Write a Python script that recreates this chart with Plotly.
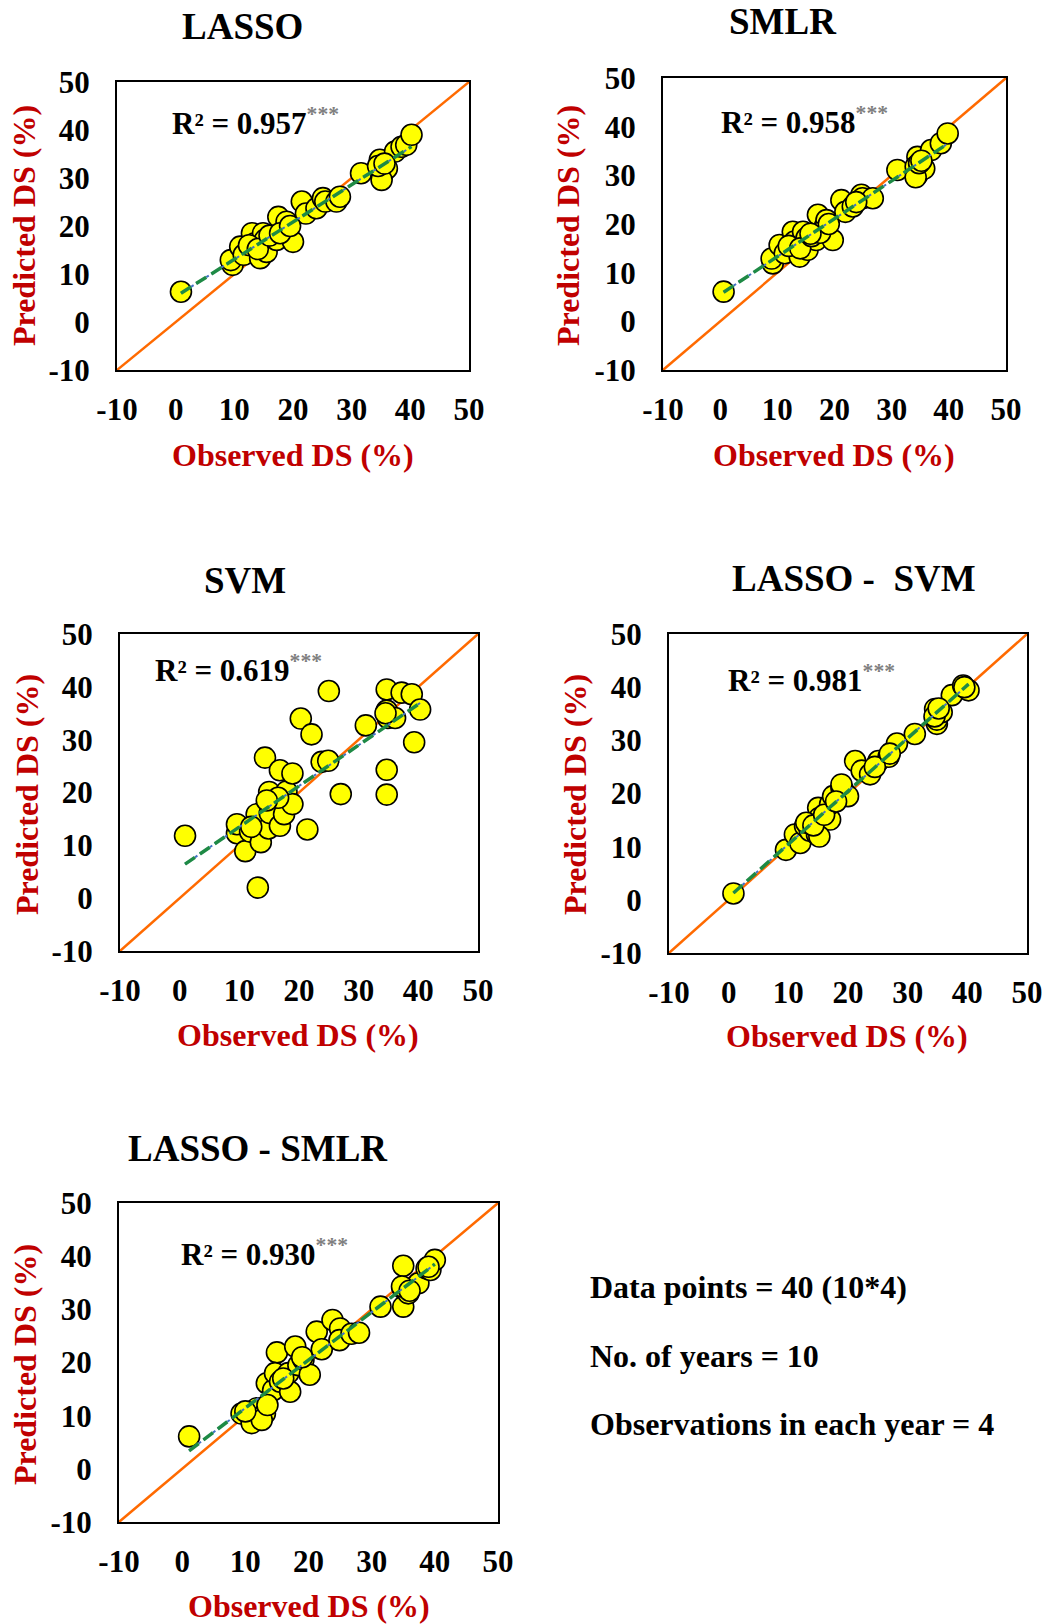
import numpy as np
import plotly.graph_objects as go

W, H = 1052, 1624

# ---------------- data ----------------
panel_titles = ["LASSO", "SMLR", "SVM", "LASSO -\u00a0\u00a0SVM", "LASSO - SMLR"]
r2_values = ["0.957", "0.958", "0.619", "0.981", "0.930"]

obs_lasso = [0.9, 9.7, 9.4, 11.0, 11.6, 13.0, 13.5, 14.4, 14.9, 15.2, 15.5, 17.2, 17.5, 18.6, 18.9, 20.0,
             21.5, 22.2, 24.0, 25.1, 25.5, 27.4, 28.0, 31.6, 34.8, 35.1, 35.4, 36.0, 35.1, 37.4, 38.5, 39.3,
             40.2, 12.5, 14.0, 16.0, 17.8, 19.5, 34.5, 35.6]
pred_lasso = [6.3, 11.9, 12.9, 15.7, 14.0, 18.5, 16.4, 13.3, 18.5, 17.1, 14.6, 17.1, 21.9, 19.2, 20.9, 16.7,
              25.1, 22.6, 23.7, 25.8, 25.1, 25.1, 26.1, 31.0, 33.8, 30.3, 31.3, 32.0, 29.6, 35.5, 36.5, 36.9,
              39.0, 16.0, 15.2, 18.0, 18.5, 20.0, 32.5, 33.0]

obs_smlr = [0.6, 9.2, 9.0, 10.4, 11.3, 12.7, 13.0, 13.9, 14.5, 15.1, 15.3, 16.8, 17.1, 18.3, 18.6, 19.7,
            21.2, 21.9, 23.2, 24.7, 24.9, 26.7, 31.0, 34.5, 34.2, 34.5, 35.7, 36.9, 38.6, 39.8, 34.2, 12.0,
            14.0, 16.0, 17.5, 19.0, 23.8, 34.8, 35.2, 15.8]
pred_smlr = [6.1, 11.9, 12.9, 15.7, 14.0, 18.4, 16.4, 13.3, 18.4, 17.1, 14.7, 16.7, 21.9, 19.5, 20.8, 16.7,
             24.9, 22.5, 23.6, 26.0, 25.3, 25.3, 31.1, 33.8, 31.8, 30.1, 31.4, 35.2, 36.6, 38.6, 29.6, 15.5,
             15.0, 17.5, 18.2, 20.0, 24.5, 32.5, 33.0, 18.0]

obs_svm = [0.9, 9.6, 9.6, 11.0, 11.8, 12.9, 13.6, 13.1, 14.3, 14.9, 15.0, 15.1, 16.8, 16.8, 17.5, 17.9,
           18.9, 18.9, 20.3, 21.4, 22.1, 23.8, 24.9, 25.0, 27.0, 31.2, 34.7, 34.7, 34.9, 36.1, 34.7, 34.7,
           37.2, 38.9, 39.3, 40.3, 12.0, 16.5, 14.6, 34.5]
pred_svm = [11.8, 12.3, 14.0, 8.9, 12.6, 15.9, 10.6, 2.0, 26.6, 13.2, 20.1, 16.1, 24.2, 13.7, 15.9, 20.2,
            23.6, 17.8, 34.0, 13.0, 31.0, 25.8, 26.0, 39.2, 19.7, 32.7, 39.5, 35.5, 34.1, 34.1, 24.3, 19.6,
            38.9, 38.6, 29.5, 35.7, 13.5, 19.0, 18.5, 35.0]

obs_ls = [0.8, 9.6, 11.1, 12.0, 12.8, 13.6, 14.8, 15.0, 15.2, 17.0, 17.0, 17.5, 18.9, 19.2, 20.0, 21.2,
          22.3, 23.7, 25.1, 26.8, 28.2, 31.2, 34.6, 34.9, 34.9, 35.7, 37.4, 39.3, 40.2, 18.9, 15.2, 13.0,
          14.2, 16.0, 18.0, 24.5, 34.5, 35.2, 39.5, 27.0]
pred_ls = [1.2, 9.4, 12.3, 10.7, 13.9, 13.0, 12.3, 17.3, 15.4, 15.1, 18.0, 19.5, 21.1, 20.6, 19.5, 26.1,
           24.3, 23.6, 26.1, 26.9, 29.4, 31.2, 35.9, 33.1, 33.9, 35.3, 38.5, 40.3, 39.4, 21.7, 11.9, 14.5,
           14.0, 16.0, 18.5, 25.0, 34.5, 36.0, 40.0, 27.5]

obs_lsm = [1.1, 9.4, 11.0, 11.8, 13.1, 13.4, 14.4, 15.0, 14.7, 15.5, 17.1, 16.8, 17.9, 18.4, 19.2, 20.2,
           21.3, 22.1, 23.8, 25.0, 24.9, 26.8, 28.0, 31.4, 35.0, 34.9, 35.0, 35.8, 37.4, 38.7, 39.3, 40.0,
           34.8, 12.6, 10.0, 13.5, 16.0, 19.0, 36.0, 39.0]
pred_lsm = [6.1, 10.4, 8.6, 11.4, 10.4, 16.1, 14.8, 21.9, 18.0, 16.4, 14.5, 18.0, 23.0, 19.5, 20.5, 17.7,
            25.8, 22.5, 28.0, 26.4, 24.2, 25.4, 25.6, 30.5, 38.2, 34.0, 30.5, 33.0, 34.9, 37.7, 37.4, 39.3,
            34.3, 9.2, 10.8, 12.0, 17.0, 21.0, 33.5, 38.0]

observed = [obs_lasso, obs_smlr, obs_svm, obs_ls, obs_lsm]
predicted = [pred_lasso, pred_smlr, pred_svm, pred_ls, pred_lsm]

axis_range = [-10, 50]
tick_vals = [-10, 0, 10, 20, 30, 40, 50]
tick_text = ["-10", "0", "10", "20", "30", "40", "50"]
one_to_one = [-10, 50]

info_lines = ["Data points = 40 (10*4)", "No. of years = 10", "Observations in each year = 4"]

# ---------------- layout (pixel boxes) ----------------
boxes = [  # left, right, top, bottom
    (117, 469, 82, 370),
    (663, 1006, 78, 370),
    (120, 478, 634, 951),
    (669, 1027, 634, 953),
    (119, 498, 1203, 1522),
]
title_pos = [(242, 26), (783, 22), (245, 580), (854, 578), (258, 1148)]
r2_pos = [(170, 121), (719, 120), (153, 668), (726, 678), (179, 1252)]
xtitle_pos = [(293, 455), (834, 455), (298, 1035), (847, 1036), (309, 1606)]
ytitle_pos = [(24, 226), (568, 226), (27, 795), (575, 795), (25, 1365)]

FONT = "Times New Roman, Liberation Serif, serif"
RED = "#C00000"

def px(x):
    return x / W

def py(y):
    return 1 - y / H

fig = go.Figure()
annotations = []

for i in range(5):
    n = "" if i == 0 else str(i + 1)
    xa, ya = "x" + n, "y" + n
    l, r, t, b = boxes[i]
    fig.layout["xaxis" + n] = dict(
        domain=[px(l), px(r)], range=axis_range, tickvals=tick_vals, ticktext=tick_text, anchor=ya,
        showline=True, mirror=True, linecolor="black", linewidth=2,
        showgrid=False, zeroline=False, ticks="outside", ticklen=11,
        tickcolor="rgba(0,0,0,0)", automargin=False,
        tickfont=dict(family=FONT, size=31, color="black", weight="bold"),
    )
    fig.layout["yaxis" + n] = dict(
        domain=[py(b), py(t)], range=axis_range, tickvals=tick_vals, ticktext=tick_text, anchor=xa,
        showline=True, mirror=True, linecolor="black", linewidth=2,
        showgrid=False, zeroline=False, ticks="outside", ticklen=19,
        tickcolor="rgba(0,0,0,0)", automargin=False,
        tickfont=dict(family=FONT, size=31, color="black", weight="bold"),
    )
    obs = np.array(observed[i])
    pred = np.array(predicted[i])
    fig.add_trace(go.Scatter(x=one_to_one, y=one_to_one, mode="lines",
                             line=dict(color="#FF6A00", width=2.5),
                             xaxis=xa, yaxis=ya, showlegend=False, hoverinfo="skip"))
    fig.add_trace(go.Scatter(x=obs, y=pred, mode="markers",
                             marker=dict(size=21, color="#FFFF00", line=dict(color="black", width=1.6)),
                             xaxis=xa, yaxis=ya, showlegend=False))
    slope, icpt = np.polyfit(obs, pred, 1)
    fx = np.array([obs.min(), obs.max()])
    fy = slope * fx + icpt
    fig.add_trace(go.Scatter(x=fx, y=fy, mode="lines",
                             line=dict(color="#4472C4", width=2, dash="dot"),
                             xaxis=xa, yaxis=ya, showlegend=False, hoverinfo="skip"))
    fig.add_trace(go.Scatter(x=fx, y=fy, mode="lines",
                             line=dict(color="#1E8A45", width=3.5, dash="12px,6px"),
                             xaxis=xa, yaxis=ya, showlegend=False, hoverinfo="skip"))

    tx, ty = title_pos[i]
    annotations.append(dict(x=px(tx), y=py(ty), xref="paper", yref="paper", text=panel_titles[i],
                            showarrow=False, xanchor="center", yanchor="middle",
                            font=dict(family=FONT, size=37, color="black", weight="bold")))
    rx, ry = r2_pos[i]
    annotations.append(dict(x=px(rx), y=py(ry), xref="paper", yref="paper",
                            text="R\u00b2 = " + r2_values[i] + "<sup><span style='color:#7F7F7F'>***</span></sup>",
                            showarrow=False, xanchor="left", yanchor="middle",
                            font=dict(family=FONT, size=31, color="black", weight="bold")))
    ox, oy = xtitle_pos[i]
    annotations.append(dict(x=px(ox), y=py(oy), xref="paper", yref="paper", text="Observed DS (%)",
                            showarrow=False, xanchor="center", yanchor="middle",
                            font=dict(family=FONT, size=32, color=RED, weight="bold")))
    qx, qy = ytitle_pos[i]
    annotations.append(dict(x=px(qx), y=py(qy), xref="paper", yref="paper", text="Predicted DS (%)",
                            showarrow=False, xanchor="center", yanchor="middle", textangle=-90,
                            font=dict(family=FONT, size=32, color=RED, weight="bold")))

info_y = [1287, 1356, 1424]
for line, yy in zip(info_lines, info_y):
    annotations.append(dict(x=px(588), y=py(yy), xref="paper", yref="paper", text=line,
                            showarrow=False, xanchor="left", yanchor="middle",
                            font=dict(family=FONT, size=32, color="black", weight="bold")))

fig.update_layout(
    width=W, height=H, margin=dict(l=0, r=0, t=0, b=0, pad=0), autosize=False,
    paper_bgcolor="white", plot_bgcolor="white",
    annotations=annotations, showlegend=False,
)

fig.write_html("out.html", config={"responsive": False},
               post_script="document.body.style.margin='0';document.body.style.overflow='hidden';")
